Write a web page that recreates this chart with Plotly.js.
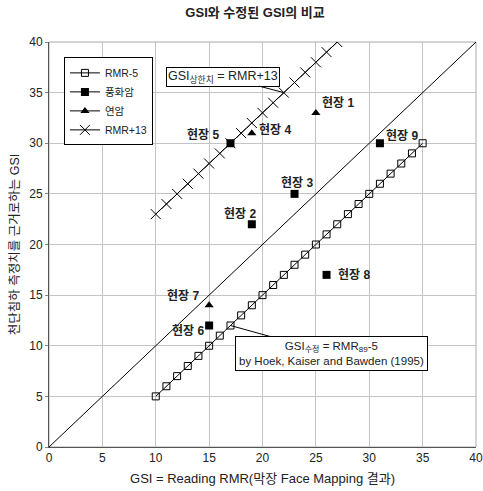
<!DOCTYPE html>
<html>
<head>
<meta charset="utf-8">
<script src="https://cdn.plot.ly/plotly-3.0.1.min.js"></script>
<style>html,body{margin:0;padding:0;background:#fff;}#chart{width:483px;height:491px;}</style>
</head>
<body>
<div id="chart"></div>
<script>
// ---- data ----
const diagX = [0, 40];
const diagY = [0, 40];

const rmr5X = [10,11,12,13,14,15,16,17,18,19,20,21,22,23,24,25,26,27,28,29,30,31,32,33,34,35];
const rmr5Y = [5,6,7,8,9,10,11,12,13,14,15,16,17,18,19,20,21,22,23,24,25,26,27,28,29,30];

const rmr13X = [10,11,12,13,14,15,16,17,18,19,20,21,22,23,24,25,26,27];
const rmr13Y = [23,24,25,26,27,28,29,30,31,32,33,34,35,36,37,38,39,40];

const weatheredNames = ['현장 2','현장 3','현장 5','현장 6','현장 8','현장 9'];
const weatheredX = [19, 23, 17, 15, 26, 31];
const weatheredY = [22, 25, 30, 12, 17, 30];

const softNames = ['현장 1','현장 4','현장 7'];
const softX = [25, 19, 15];
const softY = [33, 31, 14];

const xTicks = [0,5,10,15,20,25,30,35,40];
const yTicks = [0,5,10,15,20,25,30,35,40];

// ---- label placement (pixels) ----
const labelShift = {
  '현장 1': [22, 10], '현장 2': [-12, 11], '현장 3': [2, 11],
  '현장 4': [23, 4],  '현장 5': [-27, 9],  '현장 6': [-21, -5],
  '현장 7': [-26, 10], '현장 8': [27, 0],  '현장 9': [22, 8]
};

// isolate points with gaps so legend shows line+marker but no line is drawn
function gapped(arr){ const out=[]; arr.forEach((v,i)=>{ if(i) out.push(null); out.push(v); }); return out; }

const FONT = "Arial, 'Liberation Sans', 'Noto Sans CJK KR', sans-serif";

const traces = [
  {x: diagX, y: diagY, mode: 'lines', line: {color: '#000', width: 1}, showlegend: false, hoverinfo: 'skip'},
  {x: rmr5X, y: rmr5Y, name: 'RMR-5', mode: 'lines+markers',
   line: {color: '#000', width: 1},
   marker: {symbol: 'square-open', size: 7, color: '#000', line: {width: 1, color: '#000'}}},
  {x: gapped(weatheredX), y: gapped(weatheredY), name: '풍화암', mode: 'lines+markers', connectgaps: false,
   line: {color: '#000', width: 1},
   marker: {symbol: 'square', size: 8, color: '#000'}},
  {x: gapped(softX), y: gapped(softY), name: '연암', mode: 'lines+markers', connectgaps: false,
   line: {color: '#000', width: 1},
   marker: {symbol: 'triangle-up', size: 8, color: '#000'}},
  {x: rmr13X, y: rmr13Y, name: 'RMR+13', mode: 'lines+markers',
   line: {color: '#000', width: 1},
   marker: {symbol: 'x-thin-open', size: 10, color: '#000', line: {width: 1, color: '#000'}}}
];

const annotations = [];
function addLabels(names, xs, ys){
  names.forEach((n,i)=>{
    annotations.push({x: xs[i], y: ys[i], text: n, showarrow: false,
      xshift: labelShift[n][0], yshift: labelShift[n][1],
      font: {family: FONT, size: 12, color: '#222', weight: 'bold'}});
  });
}
addLabels(weatheredNames, weatheredX, weatheredY);
addLabels(softNames, softX, softY);

annotations.push({x: rmr13X[12], y: rmr13Y[12], text: 'GSI<sub>상한치</sub> = RMR+13',
  showarrow: true, arrowhead: 0, arrowwidth: 1, arrowcolor: '#000', ax: -61, ay: -16,
  bordercolor: '#000', borderwidth: 1, borderpad: 1, bgcolor: '#fff',
  font: {family: FONT, size: 12.5, color: '#222'}});
annotations.push({x: rmr5X[7], y: rmr5Y[7],
  text: 'GSI<sub>수정</sub> = RMR<sub>89</sub>-5<br>by Hoek, Kaiser and Bawden (1995)',
  showarrow: true, arrowhead: 0, arrowwidth: 1, arrowcolor: '#000', ax: 101, ay: 28,
  bordercolor: '#000', borderwidth: 1, borderpad: 3, bgcolor: '#fff',
  font: {family: FONT, size: 11.5, color: '#222'}});

const layout = {
  width: 483, height: 491,
  margin: {l: 49, r: 7, t: 42, b: 44},
  paper_bgcolor: '#fff', plot_bgcolor: '#fff',
  font: {family: FONT, color: '#222'},
  title: {text: 'GSI와 수정된 GSI의 비교', x: 0.528, xanchor: 'center', y: 0.974, yanchor: 'middle',
          font: {family: FONT, size: 13, color: '#222', weight: 'bold'}},
  xaxis: {range: [0, 40], tickvals: xTicks, ticktext: xTicks.map(String),
          showgrid: true, gridcolor: '#c4c4c4', gridwidth: 1, zeroline: false,
          showline: true, linecolor: '#555', linewidth: 1,
          ticks: '', tickfont: {family: FONT, size: 12, color: '#222'},
          title: {text: 'GSI = Reading RMR(막장 Face Mapping 결과)', standoff: 9,
                  font: {family: FONT, size: 13, color: '#222'}}},
  yaxis: {range: [0, 40], tickvals: yTicks, ticktext: yTicks.map(String),
          showgrid: true, gridcolor: '#c4c4c4', gridwidth: 1, zeroline: false,
          showline: true, linecolor: '#555', linewidth: 1,
          ticks: 'outside', ticklen: 3, tickcolor: '#888',
          tickfont: {family: FONT, size: 12, color: '#222'},
          title: {text: '천단침하 측정치를 근거로하는 GSI', standoff: 6,
                  font: {family: FONT, size: 12.5, color: '#222'}}},
  legend: {x: 0.035, y: 0.962, xanchor: 'left', yanchor: 'top',
           bgcolor: '#fff', bordercolor: '#000', borderwidth: 1,
           font: {family: FONT, size: 10.5, color: '#222'},
           itemwidth: 30, tracegroupgap: 0},
  shapes: [{type: 'rect', xref: 'paper', yref: 'paper', x0: 0, x1: 1, y0: 0, y1: 1,
            line: {color: '#aaa', width: 1}, fillcolor: 'rgba(0,0,0,0)', layer: 'below'}],
  annotations: annotations,
  showlegend: true
};

Plotly.newPlot('chart', traces, layout, {displayModeBar: false, staticPlot: true});
</script>
</body>
</html>
